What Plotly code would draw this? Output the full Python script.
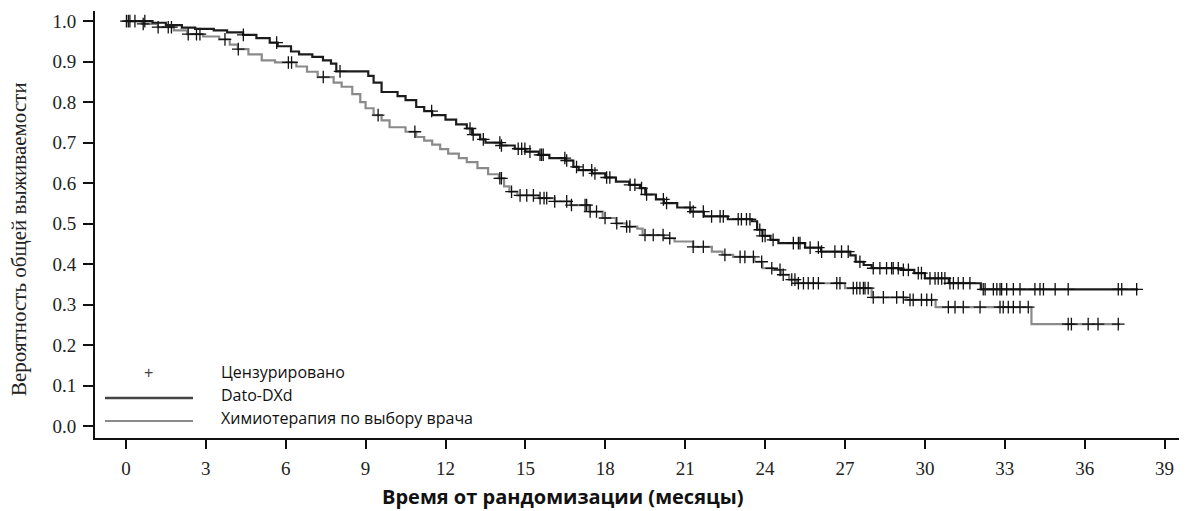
import numpy as np
import plotly.graph_objects as go

# ---------------- data ----------------
x_ticks = [0, 3, 6, 9, 12, 15, 18, 21, 24, 27, 30, 33, 36, 39]
y_ticks = [0.0, 0.1, 0.2, 0.3, 0.4, 0.5, 0.6, 0.7, 0.8, 0.9, 1.0]

series_names = ["Dato-DXd", "Химиотерапия по выбору врача"]

# Dato-DXd: event times (months) and survival after each step
dato_t = [1.0, 1.5, 2.1, 2.6, 3.3, 3.8, 4.4, 4.9, 5.4, 5.7, 6.2, 6.5, 7.0, 7.4, 7.7, 7.9,
          9.1, 9.3, 9.6, 10.2, 10.5, 10.9, 11.2, 11.5, 12.0, 12.4, 12.8, 13.0, 13.3, 13.5,
          14.1, 14.6, 15.0, 15.5, 15.9, 16.5, 16.8, 17.0, 17.5, 18.0, 18.4, 18.9, 19.3, 19.5,
          19.9, 20.2, 20.7, 21.2, 21.7, 22.6, 23.5, 23.7, 23.9, 24.2, 24.5, 25.5, 26.1, 27.2,
          27.4, 27.7, 28.0, 29.1, 29.6, 30.0, 30.9, 32.1]
dato_s = [0.996, 0.990, 0.984, 0.981, 0.977, 0.972, 0.966, 0.958, 0.947, 0.938, 0.925, 0.918,
          0.912, 0.903, 0.895, 0.876, 0.865, 0.848, 0.825, 0.815, 0.805, 0.788, 0.778, 0.768,
          0.757, 0.745, 0.735, 0.720, 0.708, 0.700, 0.693, 0.685, 0.678, 0.670, 0.662, 0.656,
          0.640, 0.632, 0.624, 0.614, 0.604, 0.596, 0.588, 0.572, 0.560, 0.551, 0.540, 0.530,
          0.518, 0.511, 0.506, 0.485, 0.470, 0.460, 0.452, 0.441, 0.431, 0.422, 0.406, 0.398,
          0.390, 0.386, 0.378, 0.365, 0.353, 0.338]
dato_end = 38.0
dato_censor = [0.02, 0.15, 0.34, 0.71, 4.41, 5.66, 8.04, 11.48, 12.92, 13.04, 13.42, 14.04,
               14.1, 14.73, 14.86, 14.98, 15.17, 15.55, 15.61, 15.67, 16.48, 16.55, 16.92,
               17.17, 17.49, 17.61, 18.05, 18.17, 18.93, 19.11, 19.36, 19.55, 20.18, 20.3,
               21.18, 21.3, 21.68, 21.99, 22.31, 22.43, 22.99, 23.11, 23.3, 23.43, 23.8, 23.9,
               24.0, 24.3, 25.06, 25.25, 25.31, 25.69, 26.0, 26.12, 26.62, 26.87, 27.12,
               27.56, 28.06, 28.31, 28.56, 28.75, 28.81, 29.0, 29.19, 29.38, 29.75, 29.87,
               30.19, 30.38, 30.5, 30.63, 30.75, 30.94, 31.07, 31.25, 31.44, 31.69, 32.19,
               32.26, 32.57, 32.7, 32.82, 32.88, 33.07, 33.32, 33.57, 34.13, 34.32, 34.45,
               34.89, 35.38, 37.26, 37.39, 37.95]

# Chemotherapy of physician's choice
chemo_t = [0.6, 1.2, 1.8, 2.3, 2.9, 3.5, 3.9, 4.2, 4.6, 5.1, 5.6, 6.4, 6.8, 7.2, 7.8, 8.1,
           8.5, 8.8, 9.0, 9.3, 9.6, 9.9, 10.5, 10.9, 11.2, 11.5, 11.8, 12.1, 12.5, 12.8, 13.2,
           13.6, 14.0, 14.2, 14.4, 14.7, 15.5, 16.1, 16.7, 17.4, 17.9, 18.4, 18.8, 19.2, 19.4,
           20.2, 20.6, 21.3, 22.0, 22.4, 22.8, 23.6, 23.9, 24.3, 24.6, 24.9, 25.2, 27.0, 28.0,
           29.3, 30.4, 34.0]
chemo_s = [0.993, 0.985, 0.977, 0.968, 0.962, 0.955, 0.942, 0.931, 0.918, 0.903, 0.898, 0.888,
           0.875, 0.862, 0.848, 0.838, 0.820, 0.800, 0.785, 0.768, 0.755, 0.738, 0.727, 0.714,
           0.705, 0.695, 0.684, 0.673, 0.662, 0.652, 0.637, 0.622, 0.612, 0.592, 0.579, 0.570,
           0.563, 0.555, 0.546, 0.530, 0.514, 0.501, 0.493, 0.488, 0.472, 0.464, 0.456, 0.443,
           0.431, 0.423, 0.418, 0.406, 0.390, 0.386, 0.374, 0.362, 0.353, 0.341, 0.318, 0.312,
           0.294, 0.252]
chemo_end = 37.33
chemo_censor = [0.09, 0.65, 1.21, 1.59, 1.71, 2.34, 2.65, 2.78, 3.72, 4.22, 6.1, 6.22, 7.41,
                9.47, 10.85, 14.04, 14.1, 14.48, 14.8, 15.05, 15.3, 15.55, 15.7, 15.8, 16.1,
                16.55, 16.73, 17.24, 17.3, 17.43, 17.67, 17.99, 18.43, 18.8, 18.92, 19.49,
                19.8, 20.17, 20.42, 21.3, 21.68, 22.49, 23.06, 23.24, 23.56, 23.87, 24.25,
                24.56, 24.68, 25.0, 25.12, 25.25, 25.44, 25.62, 25.81, 26.0, 26.69, 26.81,
                27.31, 27.44, 27.56, 27.69, 27.75, 27.87, 28.06, 28.44, 28.94, 29.19, 29.44,
                29.56, 29.87, 30.07, 30.25, 30.88, 31.13, 31.44, 32.07, 32.82, 32.94, 33.13,
                33.32, 33.57, 33.88, 35.38, 35.5, 36.13, 36.5, 37.26]

legend_labels = ["Цензурировано", "Dato-DXd", "Химиотерапия по выбору врача"]
x_title = "Время от рандомизации (месяцы)"
y_title = "Вероятность общей выживаемости"

# ---------------- styling ----------------
OFF = 8  # page body margin
W, H = 1187 - OFF, 511 - OFF
PL, PR, PT, PB = 95, 1183, 11, 438  # plot area in window pixels
ML, MR, MT, MB = PL - OFF, W - (PR - OFF), PT - OFF, H - (PB - OFF)
colors = {"Dato-DXd": "#1c1c1c", "Химиотерапия по выбору врача": "#8a8a8a"}


def step_xy(times, surv, end):
    xs = [0.0] + list(times) + [end]
    ys = [1.0] + list(surv) + [surv[-1]]
    return xs, ys


def surv_at(times, surv, tc):
    t = np.asarray(times)
    s = np.concatenate([[1.0], np.asarray(surv)])
    idx = np.searchsorted(t, np.asarray(tc), side="right")
    return s[idx]


fig = go.Figure()
for name, t, s, end, cens in [
    (series_names[1], chemo_t, chemo_s, chemo_end, chemo_censor),
    (series_names[0], dato_t, dato_s, dato_end, dato_censor),
]:
    xs, ys = step_xy(t, s, end)
    fig.add_trace(go.Scatter(x=xs, y=ys, mode="lines", line_shape="hv",
                             line=dict(color=colors[name], width=2.2),
                             name=name, showlegend=False, hoverinfo="skip"))
    fig.add_trace(go.Scatter(x=cens, y=surv_at(t, s, cens), mode="markers",
                             marker=dict(symbol="cross-thin", size=9,
                                         line=dict(color="#111111", width=1.3)),
                             showlegend=False, hoverinfo="skip"))


def px_x(p):
    return (p - PL) / (PR - PL)


def px_y(p):
    return (PB - p) / (PB - PT)


fig.update_layout(
    width=W, height=H,
    margin=dict(l=ML, r=MR, t=MT, b=MB, pad=0),
    plot_bgcolor="white", paper_bgcolor="white",
    showlegend=False,
    xaxis=dict(range=[-1.16, 39.69], tickvals=x_ticks, ticktext=[str(v) for v in x_ticks],
               showgrid=False, zeroline=False, showline=True, linecolor="#111111", linewidth=2,
               ticks="outside", ticklen=9, tickwidth=2, tickcolor="#111111",
               ticklabelstandoff=3,
               tickfont=dict(family="Liberation Serif", size=19, color="#222222")),
    yaxis=dict(range=[-0.029, 1.025], tickvals=y_ticks, ticktext=[f"{v:.1f}" for v in y_ticks],
               showgrid=False, zeroline=False, showline=True, linecolor="#111111", linewidth=2,
               ticks="outside", ticklen=10, tickwidth=2, tickcolor="#111111",
               ticklabelstandoff=3,
               tickfont=dict(family="Liberation Serif", size=19, color="#222222")),
)

annotations = [
    dict(text=f"<b>{x_title}</b>", xref="paper", yref="paper", x=px_x(563), y=px_y(497),
         xanchor="center", yanchor="middle", showarrow=False,
         font=dict(family="Open Sans", size=20, color="#111111")),
    dict(text=y_title, xref="paper", yref="paper", x=px_x(19), y=px_y(239), textangle=-90,
         xanchor="center", yanchor="middle", showarrow=False,
         font=dict(family="Liberation Serif", size=21, color="#222222")),
    dict(text="+", xref="paper", yref="paper", x=px_x(148), y=px_y(372),
         xanchor="center", yanchor="middle", showarrow=False,
         font=dict(family="Liberation Sans", size=16, color="#444444")),
]
for lbl, yy in zip(legend_labels, [372, 395, 418]):
    annotations.append(dict(text=lbl, xref="paper", yref="paper", x=px_x(219), y=px_y(yy),
                            xanchor="left", yanchor="middle", showarrow=False,
                            font=dict(family="Open Sans", size=16, color="#111111")))
fig.update_layout(annotations=annotations)

fig.add_shape(type="line", xref="paper", yref="paper", x0=px_x(105), x1=px_x(193),
              y0=px_y(398), y1=px_y(398), line=dict(color="#444444", width=2.6))
fig.add_shape(type="line", xref="paper", yref="paper", x0=px_x(105), x1=px_x(193),
              y0=px_y(421), y1=px_y(421), line=dict(color="#8a8a8a", width=1.8))

fig.write_html("out.html")
